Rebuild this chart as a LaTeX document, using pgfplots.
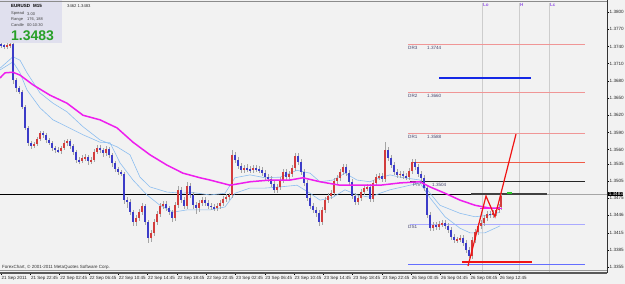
\documentclass[border=0pt]{standalone}
\usepackage{pgfplots}
\pgfplotsset{compat=1.18}
\usepackage{pgfplotstable}
\usepackage{fontspec}
\setmainfont{Liberation Sans}
\definecolor{bg}{RGB}{242,242,242}
\definecolor{bear}{RGB}{60,60,200}
\definecolor{bull}{RGB}{210,60,60}
\definecolor{wick}{RGB}{165,165,165}
\definecolor{mag}{RGB}{238,30,238}
\definecolor{lblue}{RGB}{140,190,240}
\definecolor{drpink}{RGB}{240,150,150}
\definecolor{rlev}{RGB}{240,90,70}
\definecolor{lav}{RGB}{170,170,255}
\definecolor{blev}{RGB}{100,110,255}
\definecolor{bthick}{RGB}{20,40,230}
\definecolor{zred}{RGB}{240,20,20}
\definecolor{gmark}{RGB}{40,200,40}
\definecolor{lbl}{RGB}{70,70,110}
\definecolor{boxc}{RGB}{224,224,238}
\definecolor{bignum}{RGB}{40,160,40}
\definecolor{purp}{RGB}{150,90,230}
\definecolor{sep}{RGB}{205,205,205}

\pgfplotstableread{
x o c h l
1 1.3744 1.3742 1.3748 1.3737
4 1.3742 1.3739 1.3744 1.3736
7 1.3739 1.3742 1.3746 1.3736
10 1.3742 1.3744 1.3751 1.3737
13 1.3744 1.3681 1.3758 1.3674
16 1.3681 1.3667 1.3685 1.3661
19 1.3667 1.3661 1.3671 1.3657
22 1.3661 1.3634 1.3664 1.3631
25 1.3634 1.3598 1.3638 1.3594
28 1.3598 1.3572 1.3601 1.3566
31 1.3572 1.3566 1.3575 1.3561
34 1.3566 1.3570 1.3573 1.3563
37 1.3570 1.3579 1.3582 1.3566
40 1.3579 1.3589 1.3592 1.3575
43 1.3589 1.3586 1.3592 1.3580
46 1.3586 1.3577 1.3589 1.3572
49 1.3577 1.3572 1.3580 1.3568
52 1.3572 1.3563 1.3575 1.3558
55 1.3563 1.3559 1.3566 1.3554
58 1.3559 1.3558 1.3565 1.3554
61 1.3558 1.3563 1.3566 1.3552
64 1.3563 1.3572 1.3577 1.3559
67 1.3572 1.3575 1.3579 1.3566
70 1.3575 1.3566 1.3579 1.3561
73 1.3566 1.3556 1.3570 1.3551
76 1.3556 1.3542 1.3559 1.3537
79 1.3542 1.3540 1.3547 1.3535
82 1.3540 1.3545 1.3551 1.3537
85 1.3545 1.3547 1.3552 1.3540
88 1.3547 1.3540 1.3551 1.3533
91 1.3540 1.3542 1.3547 1.3535
94 1.3542 1.3556 1.3561 1.3538
97 1.3556 1.3563 1.3568 1.3552
100 1.3563 1.3559 1.3568 1.3554
103 1.3559 1.3554 1.3563 1.3547
106 1.3554 1.3561 1.3566 1.3549
109 1.3561 1.3551 1.3565 1.3545
112 1.3551 1.3537 1.3554 1.3530
115 1.3537 1.3526 1.3540 1.3521
118 1.3526 1.3521 1.3530 1.3516
121 1.3521 1.3518 1.3524 1.3514
124 1.3518 1.3472 1.3521 1.3465
127 1.3472 1.3469 1.3477 1.3458
130 1.3469 1.3451 1.3474 1.3446
133 1.3451 1.3434 1.3455 1.3427
136 1.3434 1.3441 1.3446 1.3427
139 1.3441 1.3451 1.3456 1.3436
142 1.3451 1.3462 1.3467 1.3446
145 1.3462 1.3434 1.3465 1.3429
148 1.3434 1.3406 1.3437 1.3397
151 1.3406 1.3415 1.3420 1.3399
154 1.3415 1.3434 1.3439 1.3409
157 1.3434 1.3448 1.3453 1.3429
160 1.3448 1.3462 1.3467 1.3443
163 1.3462 1.3465 1.3470 1.3456
166 1.3465 1.3458 1.3470 1.3453
169 1.3458 1.3451 1.3462 1.3446
172 1.3451 1.3441 1.3455 1.3434
175 1.3441 1.3463 1.3469 1.3436
178 1.3463 1.3490 1.3497 1.3458
181 1.3490 1.3472 1.3495 1.3467
184 1.3472 1.3462 1.3477 1.3456
187 1.3462 1.3497 1.3504 1.3456
190 1.3497 1.3481 1.3502 1.3476
193 1.3481 1.3463 1.3486 1.3456
196 1.3463 1.3458 1.3469 1.3448
199 1.3458 1.3467 1.3472 1.3451
202 1.3467 1.3472 1.3477 1.3462
205 1.3472 1.3467 1.3477 1.3462
208 1.3467 1.3462 1.3472 1.3456
211 1.3462 1.3460 1.3467 1.3455
214 1.3460 1.3458 1.3465 1.3453
217 1.3458 1.3462 1.3467 1.3453
220 1.3462 1.3467 1.3472 1.3456
223 1.3467 1.3474 1.3479 1.3462
226 1.3474 1.3477 1.3483 1.3469
229 1.3477 1.3481 1.3484 1.3472
232 1.3481 1.3551 1.3559 1.3476
235 1.3551 1.3542 1.3556 1.3537
238 1.3542 1.3531 1.3547 1.3526
241 1.3531 1.3524 1.3537 1.3519
244 1.3524 1.3528 1.3533 1.3519
247 1.3528 1.3526 1.3535 1.3521
250 1.3526 1.3524 1.3531 1.3519
253 1.3524 1.3528 1.3533 1.3519
256 1.3528 1.3526 1.3533 1.3521
259 1.3526 1.3524 1.3531 1.3519
262 1.3524 1.3519 1.3530 1.3514
265 1.3519 1.3512 1.3524 1.3507
268 1.3512 1.3509 1.3518 1.3504
271 1.3509 1.3500 1.3514 1.3495
274 1.3500 1.3490 1.3505 1.3484
277 1.3490 1.3495 1.3500 1.3484
280 1.3495 1.3507 1.3512 1.3490
283 1.3507 1.3521 1.3526 1.3502
286 1.3521 1.3512 1.3526 1.3507
289 1.3512 1.3518 1.3523 1.3507
292 1.3518 1.3528 1.3533 1.3512
295 1.3528 1.3549 1.3554 1.3523
298 1.3549 1.3538 1.3554 1.3533
301 1.3538 1.3521 1.3544 1.3516
304 1.3521 1.3502 1.3526 1.3497
307 1.3502 1.3476 1.3507 1.3470
310 1.3476 1.3462 1.3481 1.3456
313 1.3462 1.3455 1.3467 1.3449
316 1.3455 1.3449 1.3460 1.3443
319 1.3449 1.3434 1.3455 1.3427
322 1.3434 1.3455 1.3460 1.3429
325 1.3455 1.3472 1.3477 1.3449
328 1.3472 1.3479 1.3484 1.3467
331 1.3479 1.3484 1.3490 1.3474
334 1.3484 1.3505 1.3511 1.3479
337 1.3505 1.3511 1.3516 1.3500
340 1.3511 1.3521 1.3526 1.3505
343 1.3521 1.3530 1.3535 1.3516
346 1.3530 1.3519 1.3535 1.3514
349 1.3519 1.3504 1.3524 1.3498
352 1.3504 1.3479 1.3509 1.3474
355 1.3479 1.3469 1.3484 1.3463
358 1.3469 1.3476 1.3481 1.3463
361 1.3476 1.3486 1.3491 1.3470
364 1.3486 1.3493 1.3498 1.3481
367 1.3493 1.3495 1.3500 1.3488
370 1.3495 1.3474 1.3500 1.3469
373 1.3474 1.3502 1.3507 1.3469
376 1.3502 1.3512 1.3518 1.3497
379 1.3512 1.3514 1.3519 1.3507
382 1.3514 1.3509 1.3519 1.3504
385 1.3509 1.3559 1.3573 1.3504
388 1.3559 1.3545 1.3565 1.3540
391 1.3545 1.3533 1.3551 1.3528
394 1.3533 1.3521 1.3538 1.3516
397 1.3521 1.3516 1.3526 1.3511
400 1.3516 1.3518 1.3523 1.3511
403 1.3518 1.3514 1.3523 1.3509
406 1.3514 1.3512 1.3519 1.3507
409 1.3512 1.3523 1.3528 1.3507
412 1.3523 1.3538 1.3544 1.3518
415 1.3538 1.3530 1.3544 1.3524
418 1.3530 1.3518 1.3535 1.3512
421 1.3518 1.3511 1.3523 1.3505
424 1.3511 1.3493 1.3516 1.3488
427 1.3493 1.3446 1.3498 1.3441
430 1.3446 1.3423 1.3451 1.3418
433 1.3423 1.3429 1.3434 1.3418
436 1.3429 1.3425 1.3434 1.3420
439 1.3425 1.3430 1.3436 1.3420
442 1.3430 1.3432 1.3437 1.3425
445 1.3432 1.3427 1.3437 1.3422
448 1.3427 1.3420 1.3432 1.3415
451 1.3420 1.3408 1.3425 1.3402
454 1.3408 1.3402 1.3413 1.3397
457 1.3402 1.3404 1.3408 1.3397
460 1.3404 1.3406 1.3411 1.3399
463 1.3406 1.3397 1.3411 1.3392
466 1.3397 1.3385 1.3402 1.3380
469 1.3385 1.3374 1.3390 1.3371
472 1.3374 1.3402 1.3408 1.3369
475 1.3402 1.3416 1.3422 1.3397
478 1.3416 1.3427 1.3432 1.3411
481 1.3427 1.3432 1.3437 1.3422
484 1.3432 1.3441 1.3446 1.3427
487 1.3441 1.3448 1.3453 1.3436
490 1.3448 1.3446 1.3453 1.3441
493 1.3446 1.3449 1.3455 1.3441
496 1.3449 1.3455 1.3460 1.3444
499 1.3455 1.3460 1.3465 1.3449
501 1.3460 1.3479 1.3483 1.3455
}\candles

\begin{document}
\begin{tikzpicture}
\path[use as bounding box, fill=bg] (0,-11pt) rectangle (625pt,273pt);
\begin{axis}[
  at={(0,0)}, anchor=south west,
  scale only axis, width=607pt, height=273pt,
  xmin=0, xmax=607, ymin=1.33449, ymax=1.3821,
  enlargelimits=false, clip mode=individual,
  axis line style={draw=none},
  tick align=outside, major tick length=2pt,
  tick style={black, line width=0.4pt},
  xtick pos=left, ytick pos=right,
  xticklabel pos=left, yticklabel pos=right,
  xtick={1,30.3,59.6,88.9,118.2,147.5,176.8,206.1,235.4,264.7,294,323.3,352.6,381.9,411.2,440.5,469.8,499.1},
  xticklabels={21 Sep 2011,21 Sep 22:45,22 Sep 02:45,22 Sep 06:45,22 Sep 10:45,22 Sep 14:45,22 Sep 18:45,22 Sep 22:45,23 Sep 02:45,23 Sep 06:45,23 Sep 10:45,23 Sep 14:45,23 Sep 18:45,23 Sep 22:45,26 Sep 00:45,26 Sep 04:45,26 Sep 08:45,26 Sep 12:45},
  xticklabel style={font=\fontsize{4.5}{5}\selectfont, anchor=north west, inner sep=0.5pt, yshift=-0.5pt, text=black!85},
  ytick={1.3800,1.3770,1.3740,1.3710,1.3680,1.3650,1.3620,1.3590,1.3560,1.3535,1.3505,1.3475,1.3446,1.3415,1.3385,1.3355},
  yticklabels={1.3800,1.3770,1.3740,1.3710,1.3680,1.3650,1.3620,1.3590,1.3560,1.3535,1.3505,1.3475,1.3446,1.3415,1.3385,1.3355},
  yticklabel style={font=\fontsize{4.6}{5}\selectfont, anchor=west, inner sep=0.5pt, text=black!85},
]
% period separators
\addplot[sep, line width=0.4pt, forget plot] coordinates {(482,1.33449) (482,1.3815)};
\addplot[sep, line width=0.4pt, forget plot] coordinates {(519,1.33449) (519,1.3815)};
\addplot[sep, line width=0.4pt, forget plot] coordinates {(549,1.33449) (549,1.3815)};
% bid line and black level
\addplot[black!35, line width=0.5pt] coordinates {(0,1.3483) (607,1.3483)};
\addplot[black, line width=0.6pt] coordinates {(0,1.3483) (547,1.3483)};
\addplot[black!75, line width=1.5pt] coordinates {(471,1.3483) (547,1.3483)};
% pivot levels
\addplot[drpink, line width=0.5pt] coordinates {(408,1.3744) (585,1.3744)};
\addplot[drpink, line width=0.5pt] coordinates {(408,1.3660) (585,1.3660)};
\addplot[drpink, line width=0.5pt] coordinates {(408,1.3588) (585,1.3588)};
\addplot[rlev, line width=1pt] coordinates {(412,1.3537) (585,1.3537)};
\addplot[black!85, line width=0.9pt] coordinates {(410,1.3504) (585,1.3504)};
\addplot[lav, line width=0.7pt] coordinates {(410,1.3430) (585,1.3430)};
\addplot[blev, line width=0.9pt] coordinates {(408,1.3359) (585,1.3359)};
\addplot[bthick, line width=1.3pt] coordinates {(439,1.3685) (531,1.3685)};
% moving averages
\addplot[lblue, line width=0.6pt] coordinates {(0,1.3702) (13,1.3722) (20,1.3716) (27,1.3694) (40,1.3659) (53,1.3641) (67,1.3626) (83,1.3600) (100,1.3577) (117,1.3565) (130,1.3551) (140,1.3512) (150,1.3495) (167,1.3486) (183,1.3484) (190,1.3486) (210,1.3481) (225,1.3484) (235,1.3511) (250,1.3516) (265,1.3511) (280,1.3512) (297,1.3524) (310,1.3519) (320,1.3504) (333,1.3507) (345,1.3519) (357,1.3507) (370,1.3504) (380,1.3511) (390,1.3516) (400,1.3512) (420,1.3507) (430,1.3484) (440,1.3463) (460,1.3449) (475,1.3443) (490,1.3446) (500,1.3451)};
\addplot[lblue, line width=0.6pt] coordinates {(0,1.3699) (13,1.3713) (20,1.3694) (27,1.3664) (40,1.3633) (53,1.3612) (67,1.3600) (83,1.3586) (100,1.3573) (110,1.3572) (120,1.3537) (133,1.3507) (147,1.3481) (160,1.3463) (173,1.3451) (187,1.3455) (200,1.3455) (210,1.3455) (225,1.3460) (235,1.3484) (250,1.3493) (265,1.3493) (280,1.3495) (297,1.3498) (310,1.3484) (320,1.3472) (333,1.3477) (345,1.3490) (357,1.3481) (370,1.3477) (380,1.3484) (390,1.3490) (420,1.3502) (430,1.3476) (445,1.3443) (460,1.3423) (470,1.3415) (485,1.3415) (500,1.3427)};
% candles: wicks, bull bodies, bear bodies
\addplot[draw=none, mark=none, forget plot, error bars/.cd, y dir=both, y explicit, error mark=none, error bar style={draw=wick, line width=0.45pt}] table[x=x, y expr={(\thisrow{h}+\thisrow{l})/2}, y error expr={(\thisrow{h}-\thisrow{l})/2}] {\candles};
\addplot[draw=none, mark=none, forget plot, restrict y to domain=1.3:1.4, error bars/.cd, y dir=both, y explicit, error mark=none, error bar style={draw=bull, line width=1.5pt}] table[x=x, y expr={ifthenelse(\thisrow{c}>\thisrow{o},(\thisrow{o}+\thisrow{c})/2,0)}, y error expr={abs(\thisrow{c}-\thisrow{o})/2}] {\candles};
\addplot[draw=none, mark=none, forget plot, restrict y to domain=1.3:1.4, error bars/.cd, y dir=both, y explicit, error mark=none, error bar style={draw=bear, line width=1.5pt}] table[x=x, y expr={ifthenelse(\thisrow{c}<\thisrow{o},(\thisrow{o}+\thisrow{c})/2,0)}, y error expr={abs(\thisrow{c}-\thisrow{o})/2}] {\candles};
% magenta MA
\addplot[mag, line width=1.5pt] coordinates {(0,1.3685) (5,1.3694) (13,1.3695) (20,1.3690) (33,1.3673) (50,1.3655) (67,1.3641) (83,1.3620) (100,1.3612) (117,1.3598) (133,1.3573) (150,1.3551) (167,1.3533) (183,1.3519) (200,1.3511) (210,1.3507) (230,1.3498) (250,1.3504) (270,1.3507) (290,1.3507) (303,1.3511) (320,1.3504) (340,1.3498) (360,1.3498) (380,1.3498) (400,1.3502) (420,1.3504) (430,1.3495) (445,1.3484) (460,1.3472) (475,1.3463) (490,1.3458) (500,1.3458)};
\addplot[mag, line width=0.8pt] coordinates {(480,1.3458) (502,1.3458)};
% red zigzag
\addplot[zred, line width=1.3pt] coordinates {(462,1.3364) (532,1.3364)};
\addplot[zred, line width=1.2pt] coordinates {(468,1.3357) (486,1.3479) (495,1.3443) (516,1.3587)};
\addplot[gmark, line width=1.6pt] coordinates {(507,1.3484) (512,1.3484)};
% level labels
\node[anchor=west, inner sep=0pt, font=\fontsize{4.6}{5}\selectfont, text=lbl] at (axis cs:408,1.3738) {DR3};
\node[anchor=west, inner sep=0pt, font=\fontsize{4.6}{5}\selectfont, text=lbl] at (axis cs:427,1.3738) {1.3744};
\node[anchor=west, inner sep=0pt, font=\fontsize{4.6}{5}\selectfont, text=lbl] at (axis cs:408,1.3654) {DR2};
\node[anchor=west, inner sep=0pt, font=\fontsize{4.6}{5}\selectfont, text=lbl] at (axis cs:427,1.3654) {1.3660};
\node[anchor=west, inner sep=0pt, font=\fontsize{4.6}{5}\selectfont, text=lbl] at (axis cs:408,1.3582) {DR1};
\node[anchor=west, inner sep=0pt, font=\fontsize{4.6}{5}\selectfont, text=lbl] at (axis cs:427,1.3582) {1.3588};
\node[anchor=west, inner sep=0pt, font=\fontsize{4.6}{5}\selectfont, text=lbl] at (axis cs:413,1.3498) {PIV};
\node[anchor=west, inner sep=0pt, font=\fontsize{4.6}{5}\selectfont, text=lbl] at (axis cs:432,1.3498) {1.3504};
\node[anchor=west, inner sep=0pt, font=\fontsize{4.6}{5}\selectfont, text=lbl] at (axis cs:408,1.3425) {DS1};
\node[anchor=west, inner sep=0pt, font=\bfseries\fontsize{4.5}{5}\selectfont, text=purp] at (axis cs:483,1.3812) {Lo};
\node[anchor=west, inner sep=0pt, font=\bfseries\fontsize{4.5}{5}\selectfont, text=purp] at (axis cs:520,1.3812) {H};
\node[anchor=west, inner sep=0pt, font=\bfseries\fontsize{4.5}{5}\selectfont, text=purp] at (axis cs:550,1.3812) {Lc};
% info box
\addplot[fill=boxc, draw=none] coordinates {(0,1.3821) (62,1.3821) (62,1.3746) (0,1.3746)} -- cycle;
\node[anchor=west, inner sep=0pt, font=\bfseries\fontsize{4.5}{5}\selectfont] at (axis cs:11,1.3811) {EURUSD};
\node[anchor=west, inner sep=0pt, font=\bfseries\fontsize{4.5}{5}\selectfont] at (axis cs:33,1.3811) {M15};
\node[anchor=west, inner sep=0pt, font=\fontsize{4}{5}\selectfont, text=black!75] at (axis cs:11,1.3797) {Spread};
\node[anchor=west, inner sep=0pt, font=\fontsize{4}{5}\selectfont, text=black!75] at (axis cs:27,1.3797) {3.00};
\node[anchor=west, inner sep=0pt, font=\fontsize{4}{5}\selectfont, text=black!75] at (axis cs:11,1.3787) {Range};
\node[anchor=west, inner sep=0pt, font=\fontsize{4}{5}\selectfont, text=black!75] at (axis cs:27,1.3787) {176, 188};
\node[anchor=west, inner sep=0pt, font=\fontsize{4}{5}\selectfont, text=black!75] at (axis cs:11,1.3777) {Candle};
\node[anchor=west, inner sep=0pt, font=\fontsize{4}{5}\selectfont, text=black!75] at (axis cs:27,1.3777) {00:10:30};
\node[anchor=west, inner sep=0pt, font=\bfseries\fontsize{14}{15}\selectfont, text=bignum] at (axis cs:11,1.3759) {1.3483};
\node[anchor=west, inner sep=0pt, font=\fontsize{4.2}{5}\selectfont, text=black!80] at (axis cs:67,1.3811) {3462 1.3483};
\node[anchor=west, inner sep=0pt, font=\fontsize{4.5}{5}\selectfont, text=black!80] at (axis cs:2,1.3354) {ForexChart, \textcopyright{} 2001-2011 MetaQuotes Software Corp.};
% current price box
\node[anchor=west, fill=black, text=white, inner sep=0.6pt, font=\fontsize{4.6}{5}\selectfont] at (axis cs:608,1.3483) {1.3483};
% frame
\draw[black!45, line width=0.6pt] (axis cs:0,1.3819) -- (axis cs:607,1.3819);
\draw[black!80, line width=0.6pt] (axis cs:607,1.33449) -- (axis cs:607,1.3821);
\draw[black!65, line width=1.2pt] (axis cs:0,1.33449) -- (axis cs:607,1.33449);
\draw[black!40, line width=0.4pt] (axis cs:0,1.3349) -- (axis cs:607,1.3349);
\end{axis}
\end{tikzpicture}
\end{document}
